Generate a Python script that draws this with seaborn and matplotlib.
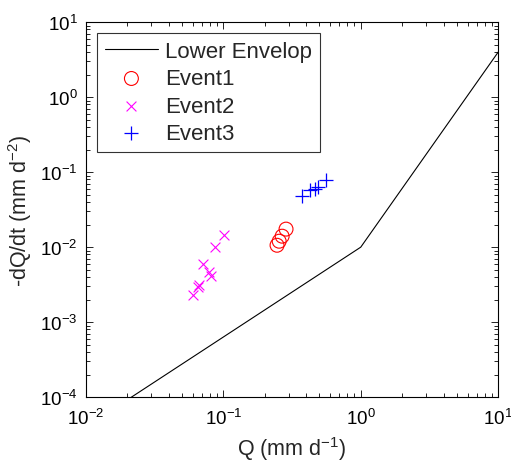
import matplotlib
matplotlib.use('Agg')
import matplotlib.pyplot as plt
import seaborn as sns

# lower envelope corners
env_q = [0.01, 1.0, 10.0]
env_dq = [4.0e-5, 1.0e-2, 4.0]

# recession events
ev1_q = [0.246, 0.255, 0.268, 0.286]
ev1_dq = [0.0106, 0.012, 0.014, 0.0174]

ev2_q = [0.101, 0.087, 0.071, 0.079, 0.081, 0.0666, 0.0654, 0.0602]
ev2_dq = [0.0145, 0.010, 0.0059, 0.0046, 0.0041, 0.0031, 0.0029, 0.0023]

ev3_q = [0.374, 0.428, 0.466, 0.49, 0.56]
ev3_dq = [0.048, 0.0575, 0.059, 0.063, 0.078]

sns.set_style('white')
plt.rcParams['font.family'] = ['Liberation Sans', 'DejaVu Sans']
plt.rcParams['mathtext.fontset'] = 'custom'
plt.rcParams['mathtext.rm'] = 'Liberation Sans'
plt.rcParams['mathtext.it'] = 'Liberation Sans:italic'

fig = plt.figure(figsize=(5.11, 4.64), dpi=100)
ax = fig.add_axes([0.168, 0.142, 0.807, 0.808])

sns.lineplot(x=env_q, y=env_dq, color='black', linewidth=0.8, label='Lower Envelop', ax=ax)
sns.scatterplot(x=ev1_q, y=ev1_dq, marker='o', s=100, facecolor='none', edgecolor='red',
                linewidth=0.8, label='Event1', ax=ax)
sns.scatterplot(x=ev2_q, y=ev2_dq, marker='x', s=50, color='magenta', linewidth=0.8,
                label='Event2', ax=ax)
sns.scatterplot(x=ev3_q, y=ev3_dq, marker='+', s=100, color='blue', linewidth=0.9,
                label='Event3', ax=ax)

ax.set_xscale('log')
ax.set_yscale('log')
ax.set_xlim(1e-2, 1e1)
ax.set_ylim(1e-4, 1e1)

for s in ax.spines.values():
    s.set_color('black')
    s.set_linewidth(0.8)
ax.tick_params(which='both', direction='in', bottom=True, left=True, top=True, right=True,
               labelsize=13.5, colors='black', width=0.6)
ax.tick_params(which='major', length=5)
ax.tick_params(which='minor', length=3)
ax.tick_params(axis='x', pad=8)
ax.tick_params(axis='y', pad=6)

ax.set_xlabel('Q (mm d$^{-1}$)', fontsize=15.5, labelpad=4)
ax.set_ylabel('-dQ/dt (mm d$^{-2}$)', fontsize=15.5, labelpad=4)

leg = ax.legend(loc='upper left', fontsize=16, frameon=True, fancybox=False,
                borderaxespad=0.5, handlelength=2.4, handletextpad=0.3,
                labelspacing=0.28, borderpad=0.35)
leg.get_frame().set_edgecolor('black')
leg.get_frame().set_linewidth(0.8)

fig.savefig('out.png', dpi=100)
